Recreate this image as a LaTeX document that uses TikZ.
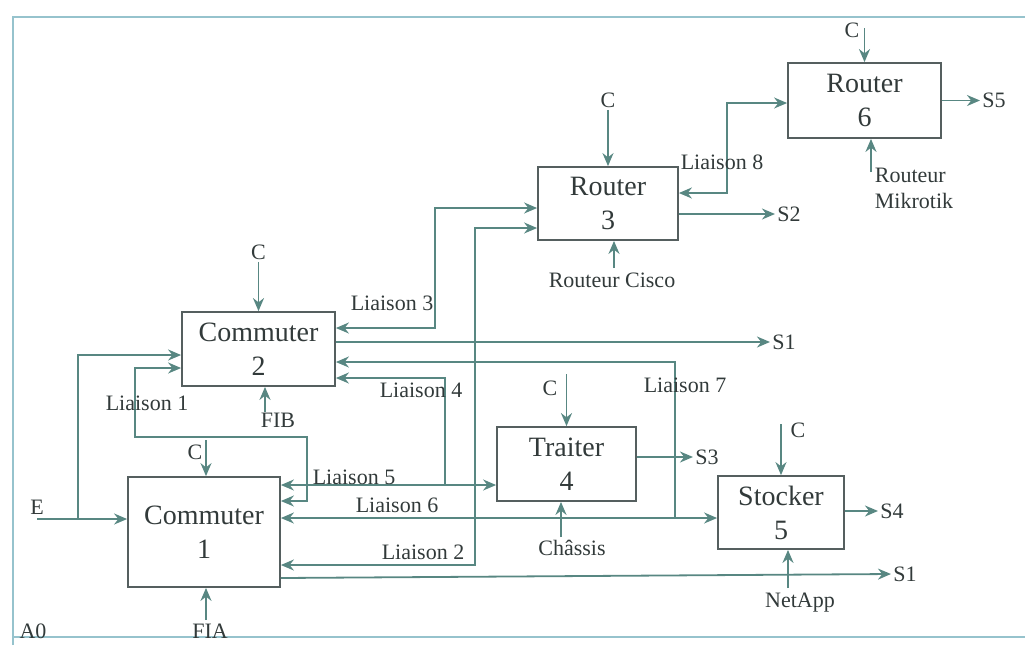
\documentclass[tikz,border=0pt]{standalone}
\usepackage{fontspec}
\setmainfont{Liberation Serif}
\usetikzlibrary{arrows.meta}
\definecolor{conn}{RGB}{88,135,130}
\definecolor{boxc}{RGB}{85,95,95}
\definecolor{txt}{RGB}{50,58,58}
\definecolor{framec}{RGB}{150,195,205}
\begin{document}
\begin{tikzpicture}[x=0.5pt,y=-0.5pt,
 box/.style={draw=boxc, line width=0.9pt, align=center, inner sep=0pt, font=\fontsize{14}{17}\selectfont, text=txt},
 lab/.style={font=\fontsize{11}{13}\selectfont, text=txt, inner sep=1pt},
 arr/.style={draw=conn, line width=0.9pt, -{Stealth[length=6.5pt,width=5.5pt]}},
 barr/.style={draw=conn, line width=0.9pt, {Stealth[length=6.5pt,width=5.5pt]}-{Stealth[length=6.5pt,width=5.5pt]}},
 ]
\useasboundingbox (0,0) rectangle (1025,645);
% frame
\draw[framec, line width=1pt] (13,645) -- (13,17) -- (1025,17);
\draw[framec, line width=1pt] (13,637) -- (1025,637);

% boxes
\node[box, minimum width=76.5pt, minimum height=37pt] (c2) at (258.5,349) {Commuter\\2};
\node[box, minimum width=76pt, minimum height=55pt] (c1) at (204,532) {Commuter\\1};
\node[box, minimum width=70pt, minimum height=36.5pt] (r3) at (608,203.5) {Router\\3};
\node[box, minimum width=76.5pt, minimum height=37.5pt] (r6) at (864.5,100.5) {Router\\6};
\node[box, minimum width=69.5pt, minimum height=37pt] (t4) at (566.5,464) {Traiter\\4};
\node[box, minimum width=63pt, minimum height=36.5pt] (s5) at (781,512.5) {Stocker\\5};

% controls
\node[lab] (cc2) at (258.5,252) {C};
\draw[arr] (cc2.south) -- (c2.north);
\node[lab] (cc1) at (195,452) {C};
\coordinate (cc1t) at (206,440);
\draw[arr] (cc1t) -- (cc1t|-c1.north);
\node[lab] (cc3) at (608,100) {C};
\draw[arr] (cc3.south) -- (r3.north);
\node[lab] (cc6) at (852,30) {C};
\coordinate (cc6t) at (864.5,28);
\draw[arr] (cc6t) -- (r6.north);
\node[lab] (cc4) at (550,388) {C};
\coordinate (cc4t) at (566.5,374);
\draw[arr] (cc4t) -- (t4.north);
\node[lab] (cc5) at (798,430) {C};
\coordinate (cc5t) at (781,424);
\draw[arr] (cc5t) -- (s5.north);

% mechanisms
\node[lab] (fib) at (278,420) {FIB};
\coordinate (fibb) at (265,412);
\draw[arr] (fibb) -- (fibb|-c2.south);
\node[lab] (fia) at (210,631) {FIA};
\coordinate (fiab) at (206,620);
\draw[arr] (fiab) -- (fiab|-c1.south);
\node[lab] (cisco) at (612,280) {Routeur Cisco};
\coordinate (ciscob) at (614,268);
\draw[arr] (ciscob) -- (ciscob|-r3.south);
\node[lab, align=left] (mik) at (914,188) {Routeur\\Mikrotik};
\coordinate (mikb) at (871,172);
\draw[arr] (mikb) -- (mikb|-r6.south);
\node[lab] (chassis) at (572,548) {Châssis};
\coordinate (chb) at (561,537);
\draw[arr] (chb) -- (chb|-t4.south);
\node[lab] (netapp) at (800,603) {NetApp};
\coordinate (nab) at (788,588);
\draw[arr] (nab) -- (nab|-s5.south);

% outputs
\node[lab] (s5l) at (994,100.5) {S5};
\draw[arr] (r6.east|-s5l.west) -- (s5l.west);
\node[lab] (s2l) at (789,214) {S2};
\draw[arr] (r3.east|-s2l.west) -- (s2l.west);
\node[lab] (s1a) at (784,342) {S1};
\draw[arr] (c2.east|-s1a.west) -- (s1a.west);
\node[lab] (s3l) at (707,457) {S3};
\draw[arr] (t4.east|-s3l.west) -- (s3l.west);
\node[lab] (s4l) at (892,511) {S4};
\draw[arr] (s5.east|-s4l.west) -- (s4l.west);
\node[lab] (s1b) at (905,574) {S1};
\draw[arr] (c1.east|-0,578) -- (s1b.west);

% input E
\node[lab] (e) at (37,507) {E};
\coordinate (ein) at (37,519);
\draw[arr] (ein) -- (c1.west|-ein);
\coordinate (eb) at (78,519);
\draw[arr] (eb) |- (c2.west|-0,355);

% liaisons
\draw[barr] (c1.east|-0,501) -| (307,437) -| (135,368) -- (c2.west|-0,368);
\node[lab] (l1) at (147,403) {Liaison 1};
\draw[barr] (c1.east|-0,565) -| (475,228) -- (r3.west|-0,228);
\node[lab] (l2) at (423,552) {Liaison 2};
\draw[barr] (c2.east|-0,328) -| (435,208) -- (r3.west|-0,208);
\node[lab] (l3) at (392,303) {Liaison 3};
\coordinate (j4) at (445,485);
\draw[arr] (j4) |- (c2.east|-0,378);
\node[lab] (l4) at (421,390) {Liaison 4};
\draw[barr] (c1.east|-0,485) -- (t4.west|-0,485);
\node[lab] (l5) at (354,477) {Liaison 5};
\draw[barr] (c1.east|-0,518) -- (s5.west|-0,518);
\node[lab] (l6) at (397,505) {Liaison 6};
\coordinate (j7) at (675,518);
\draw[arr] (j7) |- (c2.east|-0,362);
\node[lab] (l7) at (685,385) {Liaison 7};
\draw[barr] (r3.east|-0,193) -| (727,103) -- (r6.west|-0,103);
\node[lab] (l8) at (722,162) {Liaison 8};

\node[lab] (a0) at (33,631) {A0};
\end{tikzpicture}
\end{document}
